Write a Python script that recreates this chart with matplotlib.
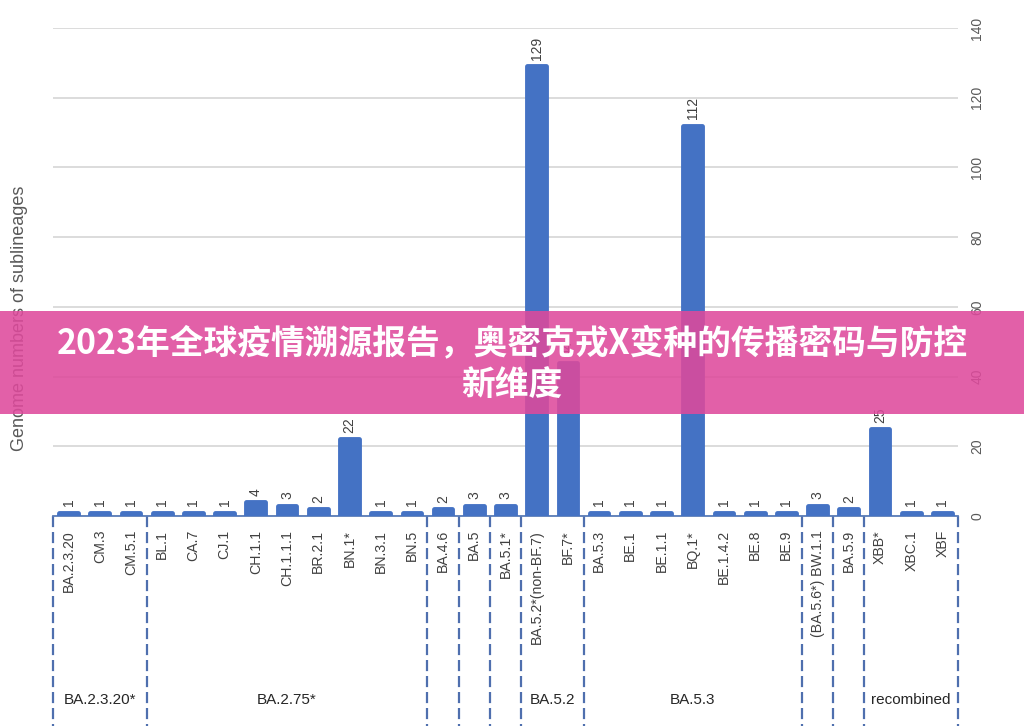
import matplotlib
matplotlib.use("Agg")
import matplotlib.pyplot as plt
from matplotlib.patches import Rectangle
import matplotlib.transforms as mtransforms

plt.rcParams['font.family'] = ['Liberation Sans', 'Noto Sans CJK SC', 'DejaVu Sans']

categories = ["BA.2.3.20", "CM.3", "CM.5.1", "BL.1", "CA.7", "CJ.1", "CH.1.1", "CH.1.1.1",
              "BR.2.1", "BN.1*", "BN.3.1", "BN.5", "BA.4.6", "BA.5", "BA.5.1*",
              "BA.5.2*(non-BF.7)", "BF.7*", "BA.5.3", "BE.1", "BE.1.1", "BQ.1*", "BE.1.4.2",
              "BE.8", "BE.9", "(BA.5.6*) BW.1.1", "BA.5.9", "XBB*", "XBC.1", "XBF"]
values = [1, 1, 1, 1, 1, 1, 4, 3, 2, 22, 1, 1, 2, 3, 3, 129, 44, 1, 1, 1, 112, 1, 1, 1, 3, 2, 25, 1, 1]
group_names = ["BA.2.3.20*", "BA.2.75*", "", "", "", "BA.5.2", "BA.5.3", "", "", "recombined"]
group_sizes = [3, 9, 1, 1, 1, 2, 7, 1, 1, 3]
y_ticks = [0, 20, 40, 60, 80, 100, 120, 140]
title_lines = ["2023年全球疫情溯源报告，奥密克戎X变种的传播密码与防控", "新维度"]
y_label = "Genome numbers of sublineages"

BAR = "#4472C4"
fig = plt.figure(figsize=(10.24, 7.26), dpi=100)
ax = fig.add_axes([53/1024, 1-516/726, (958-53)/1024, (516-28)/726])

x = list(range(len(categories)))
ax.bar(x, values, width=0.6, color=BAR, edgecolor=BAR, linewidth=3.5,
       joinstyle='round', zorder=3)
for xi, v in zip(x, values):
    ax.annotate(str(v), (xi, v), xytext=(0, 4.5), textcoords='offset points',
                rotation=90, ha='center', va='bottom', fontsize=10, color='#404040')

ax.set_xlim(-0.5, len(categories) - 0.5)
ax.set_ylim(0, 140)
ax.set_yticks(y_ticks)
ax.yaxis.tick_right()
ax.tick_params(axis='y', length=0, pad=9, labelsize=10, labelcolor='#595959')
for lab in ax.get_yticklabels():
    lab.set_rotation(90)
    lab.set_va('center')
ax.set_xticks(x)
ax.set_xticklabels(categories, rotation=90, fontsize=10.2, color='#404040')
ax.tick_params(axis='x', length=0, pad=10)
ax.grid(axis='y', color='#D9D9D9', linewidth=1.3, zorder=0)
for s in ['top', 'left', 'right']:
    ax.spines[s].set_visible(False)
ax.spines['bottom'].set_color('#5B7DB8')
ax.spines['bottom'].set_linewidth(1.3)
ax.spines['bottom'].set_zorder(2)

# group separators and labels
trans = mtransforms.blended_transform_factory(ax.transData, ax.transAxes)
bounds = [-0.5]
for gs in group_sizes:
    bounds.append(bounds[-1] + gs)
for b in bounds:
    ax.plot([b, b], [0, -0.44], transform=trans, clip_on=False, color='#4F6FAE',
            linewidth=1.6, linestyle=(0, (5, 2.2)), zorder=1)
for name, b0, b1 in zip(group_names, bounds[:-1], bounds[1:]):
    if name:
        ax.text((b0 + b1) / 2, -0.377, name, transform=trans, ha='center', va='center',
                fontsize=11, color='#262626')

fig.text(20/1024, 1-318/726, y_label, rotation=90, ha='center', va='center',
         fontsize=13, color='#595959')

# banner
fig.patches.append(Rectangle((0, 1-414/726), 1, 103/726, transform=fig.transFigure,
                             facecolor='#DE4A9C', alpha=0.88, edgecolor='none', zorder=10))
for line, yc in zip(title_lines, [343, 384]):
    fig.text(512/1024, 1-yc/726, line, ha='center', va='center', fontsize=24.3,
             fontweight='black', color='white', family=['Noto Sans CJK SC', 'DejaVu Sans'],
             zorder=11)

fig.savefig("out.png", dpi=100)
